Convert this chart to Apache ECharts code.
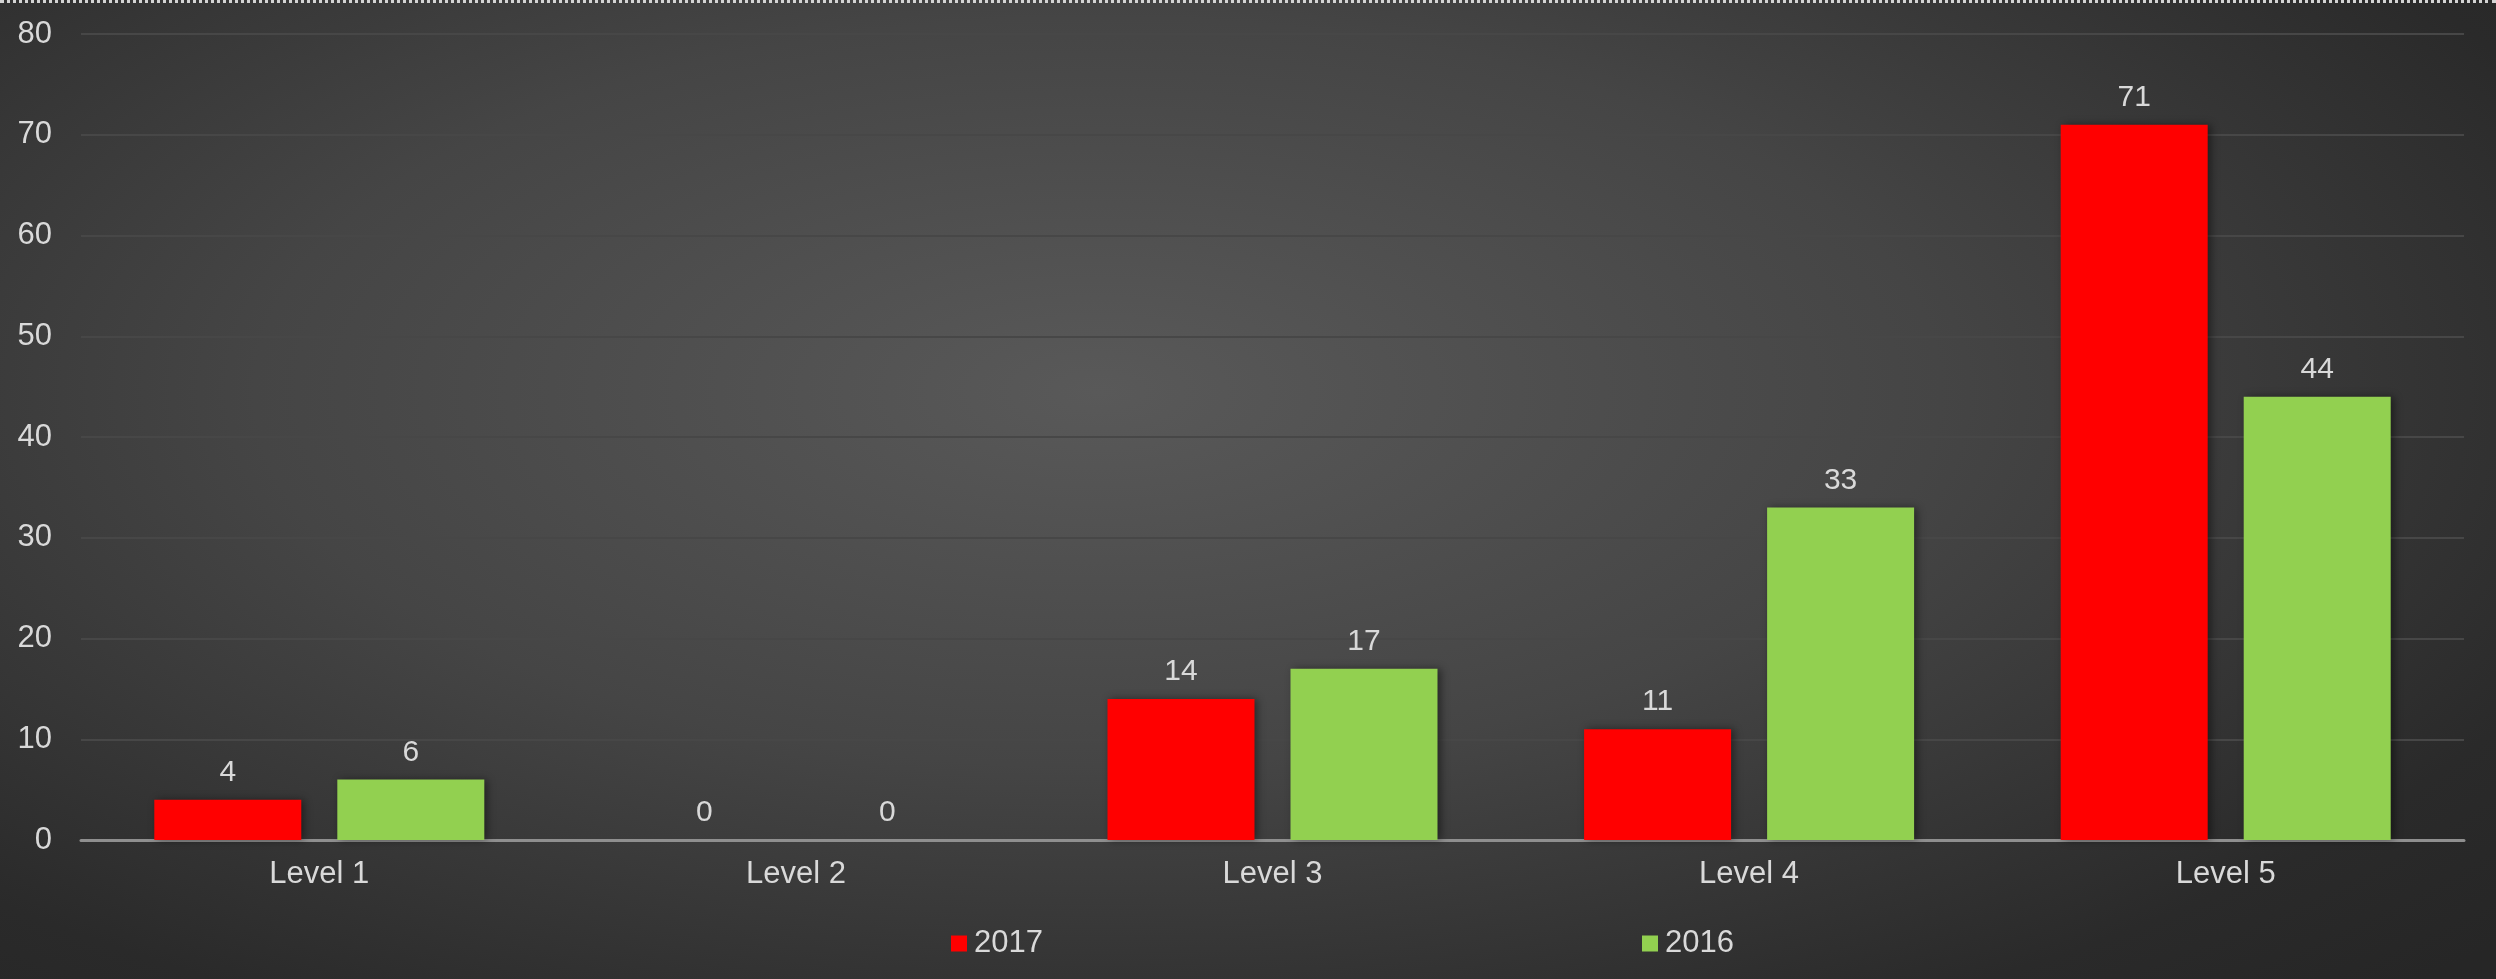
<!DOCTYPE html>
<html>
<head>
<meta charset="utf-8">
<script src="https://cdn.jsdelivr.net/npm/echarts@6/dist/echarts.min.js"></script>
<style>
  html, body { margin: 0; padding: 0; width: 2496px; height: 979px; overflow: hidden; }
  #wrap {
    position: absolute; left: 0; top: 0; width: 2496px; height: 979px;
    background: radial-gradient(ellipse 75% 85% at 44% 40%, #595959 0%, #454545 45%, #2a2a2a 85%, #262626 100%);
  }
  #topline { position: absolute; left: 0; top: 0; width: 2496px; height: 0; border-top: 3px dotted #d4d4d4; z-index: 2; }
  #chart { position: absolute; left: 0; top: 0; width: 2496px; height: 979px; }
</style>
</head>
<body>
<div id="wrap"></div>
<div id="topline"></div>
<div id="chart"></div>
<script>
const categories = ['Level 1', 'Level 2', 'Level 3', 'Level 4', 'Level 5'];
const series2017 = [4, 0, 14, 11, 71];
const series2016 = [6, 0, 17, 33, 44];
const seriesNames = ['2017', '2016'];
const yMin = 0, yMax = 80, yInterval = 10;

const chart = echarts.init(document.getElementById('chart'), null, { renderer: 'canvas' });
const labelColor = '#d9d9d9';
const fontFamily = 'Liberation Sans, Arial, sans-serif';

const barLabel = {
  show: true,
  position: 'top',
  distance: 12,
  color: labelColor,
  fontSize: 30,
  fontFamily: fontFamily
};
const shadow = { shadowColor: 'rgba(0,0,0,0.45)', shadowBlur: 8, shadowOffsetX: 3, shadowOffsetY: 0 };

function legendFor(name, left) {
  return {
    data: [name],
    left: left,
    top: 923,
    icon: 'rect',
    itemWidth: 16,
    itemHeight: 16,
    itemGap: 0,
    textStyle: {
      color: labelColor,
      fontSize: 31,
      fontFamily: fontFamily,
      padding: [0, 0, 0, 2]
    }
  };
}

chart.setOption({
  backgroundColor: 'transparent',
  animation: false,
  grid: { left: 81, right: 32, top: 34, bottom: 139, containLabel: false },
  legend: [legendFor(seriesNames[0], 946), legendFor(seriesNames[1], 1637)],
  xAxis: {
    type: 'category',
    data: categories,
    axisLine: { show: true, lineStyle: { color: '#8f8f8f', width: 3 } },
    axisTick: { show: false },
    axisLabel: { color: labelColor, fontSize: 31, fontFamily: fontFamily, margin: 19 },
    splitLine: { show: false }
  },
  yAxis: {
    type: 'value',
    min: yMin,
    max: yMax,
    interval: yInterval,
    axisLine: { show: false },
    axisTick: { show: false },
    axisLabel: { color: labelColor, fontSize: 31, fontFamily: fontFamily, margin: 29 },
    splitLine: { show: true, lineStyle: { color: '#474747', width: 2 } }
  },
  series: [
    {
      name: seriesNames[0],
      type: 'bar',
      data: series2017,
      barWidth: 147,
      barGap: '24.5%',
      itemStyle: Object.assign({ color: '#ff0000' }, shadow),
      label: barLabel
    },
    {
      name: seriesNames[1],
      type: 'bar',
      data: series2016,
      barWidth: 147,
      barGap: '24.5%',
      itemStyle: Object.assign({ color: '#92d050' }, shadow),
      label: barLabel
    }
  ]
});
</script>
</body>
</html>
